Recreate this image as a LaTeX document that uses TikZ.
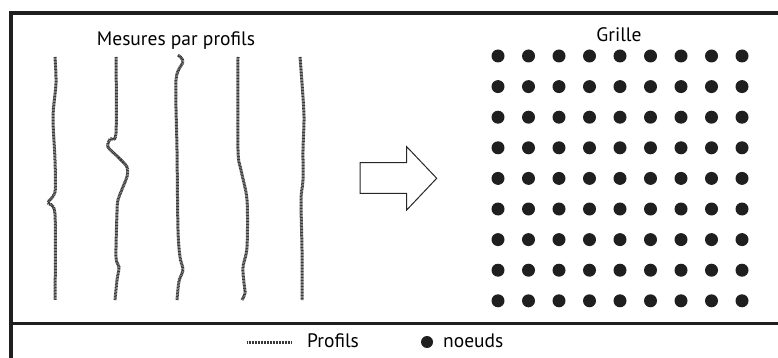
\documentclass[tikz,border=0pt]{standalone}
\usepackage{fontspec}
\setmainfont{PT Sans}
\begin{document}
\begin{tikzpicture}[x=1pt, y=-1pt,
  profil/.style={black!78, line width=3pt, dash pattern=on 1pt off 0.5pt},
  noeud/.style={circle, fill=black!88, inner sep=0pt, minimum size=13pt},
  titre/.style={font=\fontsize{19.5}{22}\selectfont, inner sep=0pt}]
\useasboundingbox (0,0) rectangle (778,358);
\clip (0,0) rectangle (778,358);

% Cadre
\draw[line width=3.5pt, black!88] (11,400) -- (11,13) -- (800,13);
\draw[line width=3pt, black!88] (11,323) -- (800,323);

% Profils de mesure
\node[titre, anchor=base] (tprofils) at (176,46) {Mesures par profils};
\draw[profil] plot[smooth] coordinates {(55,57) (56,83) (53,117) (55,160) (55,192) (48,203) (55,214) (55,300)};
\draw[profil] plot[smooth] coordinates {(116,57) (116,133) (110,139) (108,147) (118,157) (127,167) (127,177) (125,182) (118,200) (117,213) (116,257) (119,267) (117,280) (115,300)};
\draw[profil] plot[smooth] coordinates {(178,55) (183,62) (176,80) (177,150) (178,230) (180,257) (183,270) (179,281) (177,300)};
\draw[profil] plot[smooth] coordinates {(238,57) (238,150) (241,170) (247,200) (247,247) (243,267) (244,283) (245,293) (242,300)};
\draw[profil] plot[smooth] coordinates {(300,57) (302,83) (304,117) (303,150) (303,180) (301,200) (302,250) (302,300)};

% Fleche
\draw[line width=1pt, black!85] (360,162.7) -- (406.7,162.7) -- (406.7,146.7) -- (436.7,178.3)
  -- (406.7,210) -- (406.7,193.3) -- (360,193.3) -- cycle;

% Grille de noeuds
\node[titre, anchor=base] (tgrille) at (619,42) {Grille};
\foreach \i in {1,...,9}
  \foreach \j in {1,...,9}
    \node[noeud] (n\i\j) at ({498+30.5*(\i-1)},{56+30.6*(\j-1)}) {};

% Legende
\coordinate (lg1) at (247,342);
\coordinate (lg2) at (292,342);
\draw[profil] (lg1) -- (lg2);
\node[titre, anchor=base west] (lprofils) at (307,347) {Profils};
\node[noeud, minimum size=12pt] (lnoeud) at (427,342) {};
\node[titre, anchor=base west] (lnoeuds) at (443,347) {noeuds};
\end{tikzpicture}
\end{document}
